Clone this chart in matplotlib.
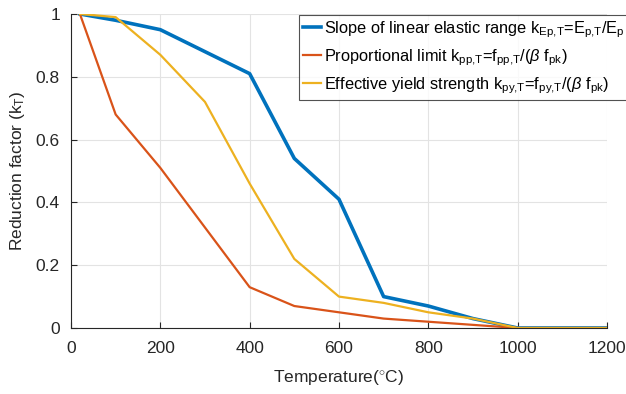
import numpy as np
import matplotlib.pyplot as plt

plt.rcParams['font.family'] = ['Liberation Sans', 'DejaVu Sans']
plt.rcParams['mathtext.fontset'] = 'custom'
plt.rcParams['mathtext.rm'] = 'Liberation Sans'
plt.rcParams['mathtext.it'] = 'Liberation Sans:italic'

# reduction factors for prestressing steel at elevated temperature
temperature = [20, 100, 200, 300, 400, 500, 600, 700, 800, 900, 1000, 1100, 1200]
k_ep = [1.00, 0.98, 0.95, 0.88, 0.81, 0.54, 0.41, 0.10, 0.07, 0.03, 0.00, 0.00, 0.00]
k_pp = [1.00, 0.68, 0.51, 0.32, 0.13, 0.07, 0.05, 0.03, 0.02, 0.01, 0.00, 0.00, 0.00]
k_py = [1.00, 0.99, 0.87, 0.72, 0.46, 0.22, 0.10, 0.08, 0.05, 0.03, 0.00, 0.00, 0.00]

labels = [
    r'Slope of linear elastic range k$_{\mathrm{Ep{,}T}}$=E$_{\mathrm{p{,}T}}$/E$_{\mathrm{p}}$',
    r'Proportional limit k$_{\mathrm{pp{,}T}}$=f$_{\mathrm{pp{,}T}}$/($\beta$ f$_{\mathrm{pk}}$)',
    r'Effective yield strength k$_{\mathrm{py{,}T}}$=f$_{\mathrm{py{,}T}}$/($\beta$ f$_{\mathrm{pk}}$)',
]

fig = plt.figure(figsize=(6.26, 3.94), dpi=100)
ax = fig.add_axes([0.1134, 0.1675, 0.8562, 0.797])

ax.plot(temperature, k_ep, color='#0072BD', lw=2.6, label=labels[0])
ax.plot(temperature, k_pp, color='#D95319', lw=1.6, label=labels[1])
ax.plot(temperature, k_py, color='#EDB120', lw=1.6, label=labels[2])

ax.set_xlim(0, 1200)
ax.set_ylim(0, 1)
ax.set_xticks(np.arange(0, 1201, 200))
ax.set_yticks(np.arange(0, 1.01, 0.2))
ax.set_yticklabels(['0', '0.2', '0.4', '0.6', '0.8', '1'])
ax.grid(True, color='#e3e3e3', lw=0.8)
ax.set_axisbelow(True)
for side in ['top', 'right']:
    ax.spines[side].set_visible(False)
for side in ['left', 'bottom']:
    ax.spines[side].set_color('#262626')
    ax.spines[side].set_linewidth(0.8)
ax.tick_params(direction='in', length=4, width=0.8, colors='#262626',
               labelsize=12.5, labelcolor='#262626')
ax.tick_params(axis='x', pad=9)
ax.tick_params(axis='y', pad=8)

ax.set_xlabel(r'Temperature($^{\circ}$C)', fontsize=12.5, color='#262626', labelpad=9)
ax.set_ylabel(r'Reduction factor (k$_{\mathrm{T}}$)', fontsize=12.5, color='#262626', labelpad=6)

leg = ax.legend(loc='upper left', bbox_to_anchor=(299 / 626, 1 - 15 / 394),
                bbox_transform=fig.transFigure, fontsize=11.8, frameon=True,
                fancybox=False, edgecolor='#262626', handlelength=1.1,
                handletextpad=0.15, borderpad=0.25, labelspacing=0.45,
                borderaxespad=0)
leg.get_frame().set_linewidth(0.8)

fig.savefig('out.png', dpi=100)
